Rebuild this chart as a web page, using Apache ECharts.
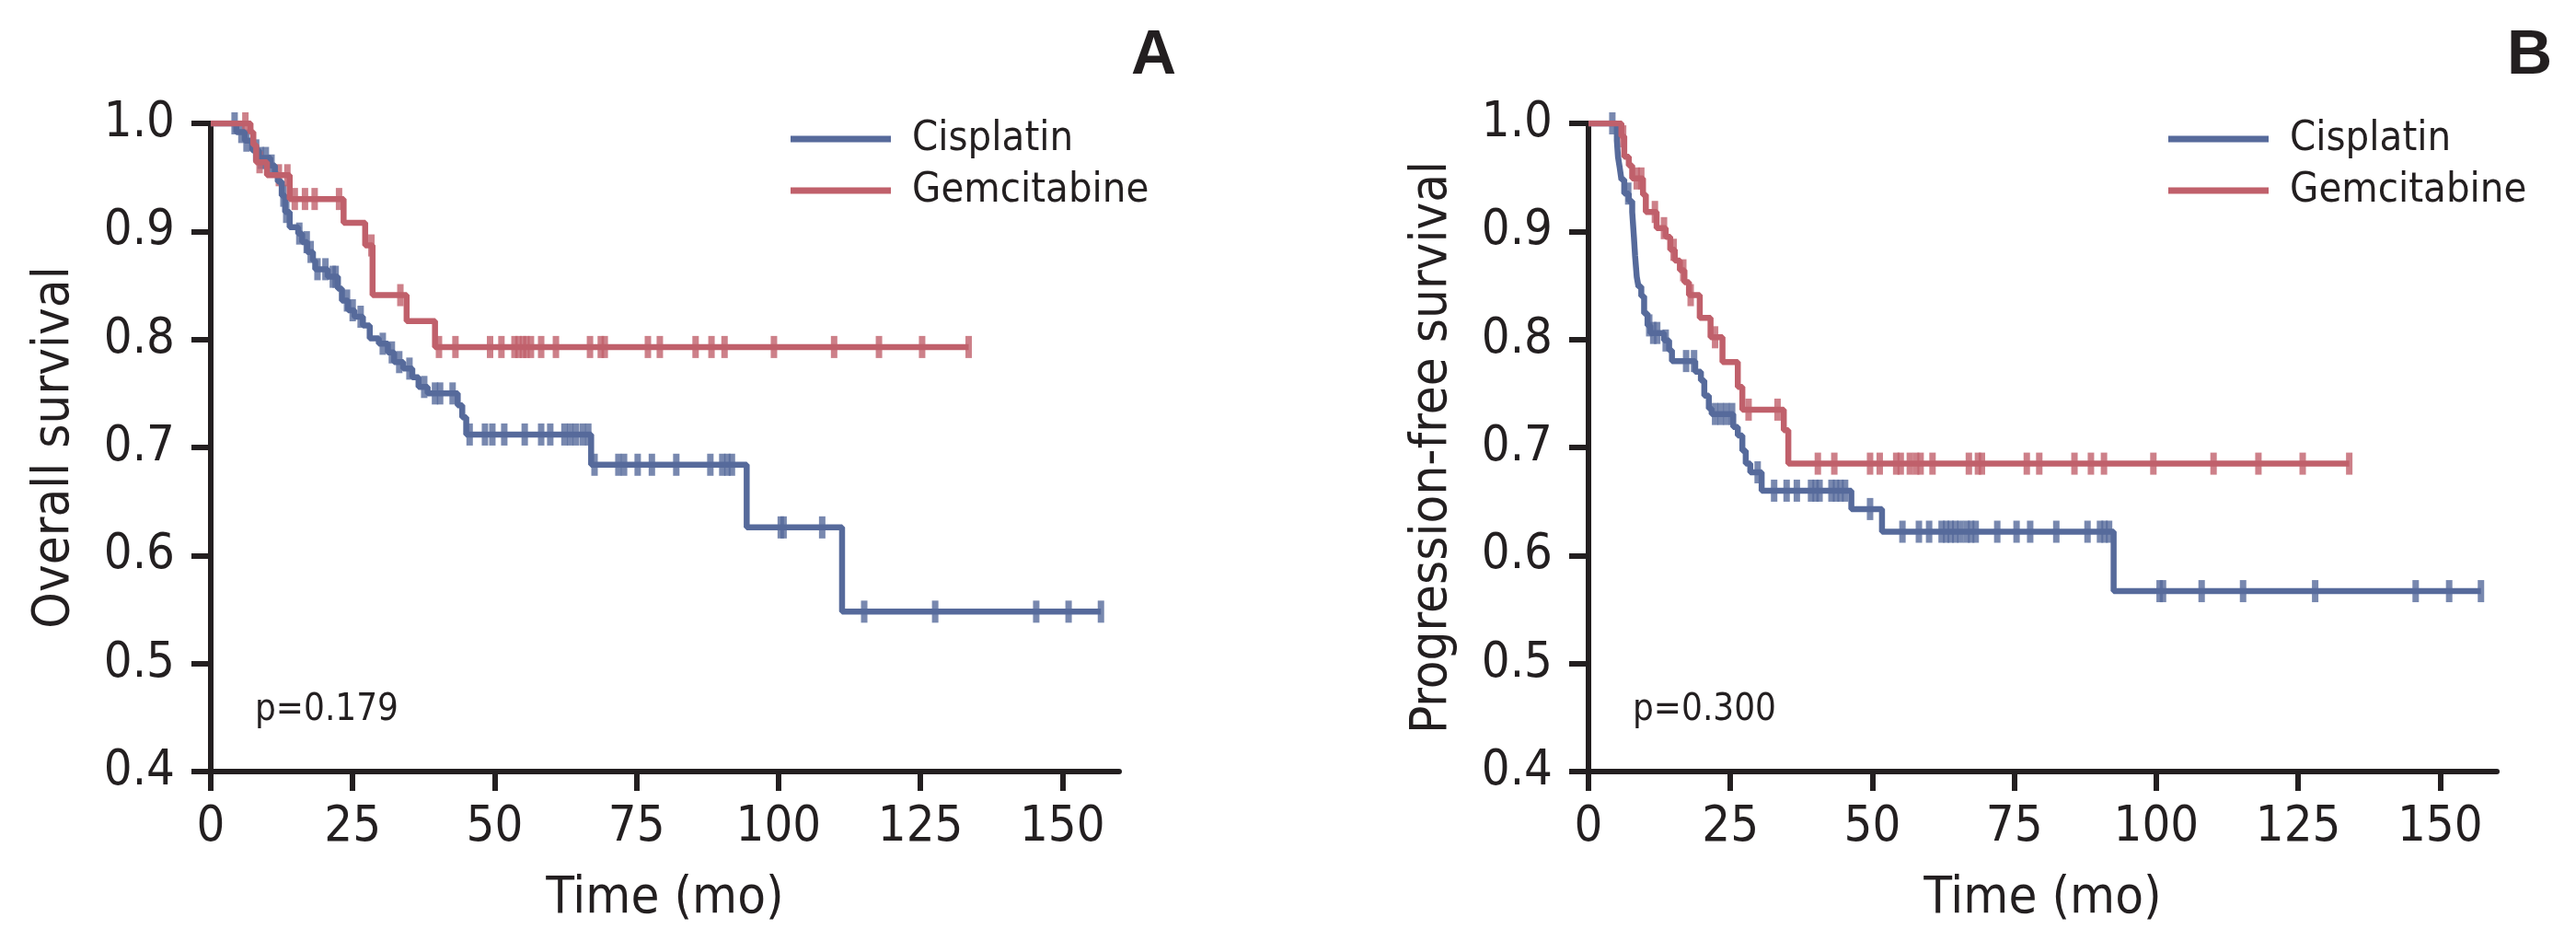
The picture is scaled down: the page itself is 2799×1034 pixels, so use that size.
<!DOCTYPE html>
<html>
<head>
<meta charset="utf-8">
<script src="https://cdn.jsdelivr.net/npm/echarts@6/dist/echarts.min.js"></script>
<style>
  html, body { margin: 0; padding: 0; background: #fff; }
  #main { width: 2799px; height: 1034px; }
</style>
</head>
<body>
<div id="main"></div>
<script>
var monthTicks = [0, 25, 50, 75, 100, 125, 150];
var seriesNames = ['Cisplatin', 'Gemcitabine'];

// A: overall survival, [month, survival after the drop]
var osCisSteps = [[0, 1], [4.5, 0.992], [6.0, 0.984], [7.3, 0.975], [8.5, 0.968], [10.5, 0.961], [11.3, 0.953], [11.8, 0.946], [12.5, 0.933], [13.1, 0.918], [13.9, 0.904], [15.4, 0.898], [16.1, 0.890], [17.0, 0.881], [18.0, 0.873], [18.4, 0.865], [20.6, 0.858], [22.4, 0.847], [23.1, 0.836], [24.2, 0.827], [25.3, 0.821], [26.8, 0.813], [28.0, 0.801], [29.6, 0.796], [31.2, 0.788], [32.3, 0.779], [33.9, 0.773], [35.5, 0.765], [36.6, 0.756], [38.2, 0.750], [43.5, 0.739], [44.3, 0.728], [45.0, 0.712], [67.0, 0.684], [94.4, 0.626], [111.2, 0.548], [156.8, 0.548]];
var osCisCensor = [4.2, 5.4, 6.3, 8.0, 8.8, 9.7, 10.7, 12.8, 13.3, 15.6, 16.9, 17.6, 18.8, 20.2, 21.5, 22.0, 24.0, 25.0, 26.4, 30.3, 31.9, 33.2, 35.0, 37.6, 39.5, 40.4, 42.6, 45.6, 48.3, 49.6, 51.7, 55.3, 58.2, 59.8, 62.3, 63.3, 64.3, 65.5, 66.5, 67.6, 71.8, 72.8, 75.2, 77.7, 82.0, 88.0, 90.1, 91.0, 91.8, 100.4, 100.9, 107.7, 115.1, 127.6, 145.4, 151.1, 156.8];
var osGemSteps = [[0, 1], [7.0, 0.992], [7.5, 0.980], [8.0, 0.964], [9.9, 0.952], [13.9, 0.930], [23.4, 0.908], [27.2, 0.887], [28.5, 0.841], [34.5, 0.817], [39.5, 0.793], [133.5, 0.793]];
var osGemCensor = [6.1, 8.6, 12.0, 13.5, 14.8, 16.6, 18.3, 22.6, 28.3, 33.4, 40.2, 43.1, 49.2, 51.2, 53.5, 54.2, 55.0, 55.6, 56.4, 58.2, 60.8, 66.8, 68.7, 69.4, 77.0, 79.1, 85.4, 88.2, 90.5, 99.2, 109.8, 117.7, 125.3, 133.5];

// B: progression-free survival
var pfsCisSteps = [[0, 1], [5.0, 0.984], [5.2, 0.969], [5.5, 0.959], [5.8, 0.948], [6.3, 0.935], [7.1, 0.928], [7.7, 0.918], [8.0, 0.895], [8.2, 0.878], [8.5, 0.858], [8.8, 0.849], [9.3, 0.840], [9.8, 0.824], [10.4, 0.813], [10.9, 0.806], [13.3, 0.799], [14.2, 0.790], [14.7, 0.780], [18.8, 0.770], [19.8, 0.762], [20.4, 0.748], [21.2, 0.736], [21.7, 0.731], [25.5, 0.719], [26.3, 0.711], [27.1, 0.697], [27.7, 0.685], [28.5, 0.677], [30.5, 0.660], [46.3, 0.643], [51.7, 0.622], [92.5, 0.567], [157.2, 0.567]];
var pfsCisCensor = [4.2, 7.0, 10.7, 11.4, 12.1, 13.6, 17.2, 18.6, 22.3, 23.3, 24.3, 25.3, 29.8, 32.7, 34.9, 36.7, 39.2, 40.0, 40.7, 42.8, 43.6, 44.4, 45.2, 49.6, 55.3, 58.2, 60.0, 62.2, 63.0, 63.8, 64.6, 65.5, 66.6, 67.4, 68.2, 72.0, 75.4, 77.8, 82.4, 87.9, 90.1, 90.9, 91.7, 100.6, 101.2, 108.0, 115.3, 128.0, 145.7, 151.6, 157.2];
var pfsGemSteps = [[0, 1], [5.8, 0.988], [6.3, 0.969], [7.1, 0.961], [7.7, 0.949], [9.6, 0.934], [10.1, 0.918], [12.0, 0.903], [13.6, 0.895], [14.4, 0.883], [15.2, 0.873], [16.1, 0.864], [16.9, 0.853], [17.7, 0.841], [19.6, 0.820], [21.5, 0.802], [23.6, 0.779], [26.3, 0.756], [27.1, 0.735], [34.4, 0.716], [35.2, 0.685], [134.0, 0.685]];
var pfsGemCensor = [6.1, 8.5, 9.3, 11.7, 13.3, 15.0, 16.7, 18.0, 22.3, 28.2, 33.3, 40.4, 43.3, 49.6, 51.3, 54.2, 55.0, 56.6, 57.7, 58.5, 60.6, 67.0, 68.6, 69.3, 77.2, 79.4, 85.6, 88.5, 90.8, 99.5, 110.1, 118.0, 125.8, 134.0];

var pValues = ['p=0.179', 'p=0.300'];
var panelLetters = ['A', 'B'];
var yNames = ['Overall survival', 'Progression-free survival'];

var blue = '#566a9b';
var red = '#c0606b';
var ink = '#231f20';
var font = "'Liberation Sans Narrow', 'DejaVu Sans Condensed', sans-serif";

// survival at time t (censor ticks sit on the line)
function survivalAt(steps, t) {
    var s = steps[0][1];
    for (var i = 0; i < steps.length; i++) {
        if (steps[i][0] <= t) s = steps[i][1];
    }
    return s;
}
function censorPoints(steps, times) {
    return times.map(function (t) { return [t, survivalAt(steps, t)]; });
}

var gridLefts = [229, 1726];

function xAxisFor(i) {
    return {
        gridIndex: i, type: 'value', min: 0, max: 160,
        name: 'Time (mo)', nameLocation: 'middle', nameGap: 110,
        nameTextStyle: { fontFamily: font, fontSize: 56, color: ink, lineHeight: 56 },
        axisLine: { show: true, lineStyle: { color: ink, width: 6 } },
        axisTick: { show: true, length: 21, lineStyle: { color: ink, width: 6 }, customValues: monthTicks },
        axisLabel: { fontFamily: font, fontSize: 54, color: ink, margin: 34, lineHeight: 54, customValues: monthTicks },
        splitLine: { show: false }
    };
}
function yAxisFor(i) {
    return {
        gridIndex: i, type: 'value', min: 0.4, max: 1.0, interval: 0.1,
        name: yNames[i], nameLocation: 'middle', nameGap: 142,
        nameTextStyle: { fontFamily: font, fontSize: 56, color: ink },
        axisLine: { show: true, lineStyle: { color: ink, width: 6 } },
        axisTick: { show: true, length: 21, lineStyle: { color: ink, width: 6 } },
        axisLabel: { fontFamily: font, fontSize: 54, color: ink, margin: 39, formatter: function (v) { return v.toFixed(1); } },
        splitLine: { show: false }
    };
}
function curve(name, steps, color, i) {
    return {
        name: name, type: 'line', step: 'end', xAxisIndex: i, yAxisIndex: i,
        data: steps, showSymbol: false, symbol: 'none',
        lineStyle: { color: color, width: 6.5 }, itemStyle: { color: color }
    };
}
function ticks(name, steps, times, color, i) {
    return {
        name: name + ' censored', type: 'scatter', xAxisIndex: i, yAxisIndex: i,
        data: censorPoints(steps, times), symbol: 'rect', symbolSize: [7, 24],
        itemStyle: { color: color }
    };
}
function legendFor(i) {
    return {
        data: seriesNames, orient: 'vertical', left: gridLefts[i] + 625, top: 121,
        icon: 'rect', itemWidth: 109, itemHeight: 7, itemGap: 6, selectedMode: false,
        textStyle: { fontFamily: font, fontSize: 45, color: ink, lineHeight: 50, padding: [0, 0, 0, 18] }
    };
}
function textAt(x, y, txt, size, weight, align) {
    return {
        type: 'text', x: x, y: y,
        style: { text: txt, fontFamily: weight === 'bold' ? "'Liberation Sans', sans-serif" : font, fontSize: size, fontWeight: weight, fill: ink, align: align, verticalAlign: 'middle' }
    };
}

var myChart = echarts.init(document.getElementById('main'), null, { renderer: 'canvas' });
var option = {
    animation: false,
    backgroundColor: '#fff',
    grid: [
        { left: gridLefts[0], top: 134, width: 987, height: 704 },
        { left: gridLefts[1], top: 134, width: 987, height: 704 }
    ],
    legend: [legendFor(0), legendFor(1)],
    xAxis: [xAxisFor(0), xAxisFor(1)],
    yAxis: [yAxisFor(0), yAxisFor(1)],
    series: [
        curve('Cisplatin', osCisSteps, blue, 0),
        curve('Gemcitabine', osGemSteps, red, 0),
        ticks('Cisplatin', osCisSteps, osCisCensor, blue, 0),
        ticks('Gemcitabine', osGemSteps, osGemCensor, red, 0),
        curve('Cisplatin', pfsCisSteps, blue, 1),
        curve('Gemcitabine', pfsGemSteps, red, 1),
        ticks('Cisplatin', pfsCisSteps, pfsCisCensor, blue, 1),
        ticks('Gemcitabine', pfsGemSteps, pfsGemCensor, red, 1)
    ],
    graphic: [
        textAt(gridLefts[0] + 48, 772, pValues[0], 40, 'normal', 'left'),
        textAt(gridLefts[1] + 48, 772, pValues[1], 40, 'normal', 'left'),
        textAt(1278, 61, panelLetters[0], 68, 'bold', 'right'),
        textAt(2773, 61, panelLetters[1], 68, 'bold', 'right')
    ]
};
myChart.setOption(option);
</script>
</body>
</html>
